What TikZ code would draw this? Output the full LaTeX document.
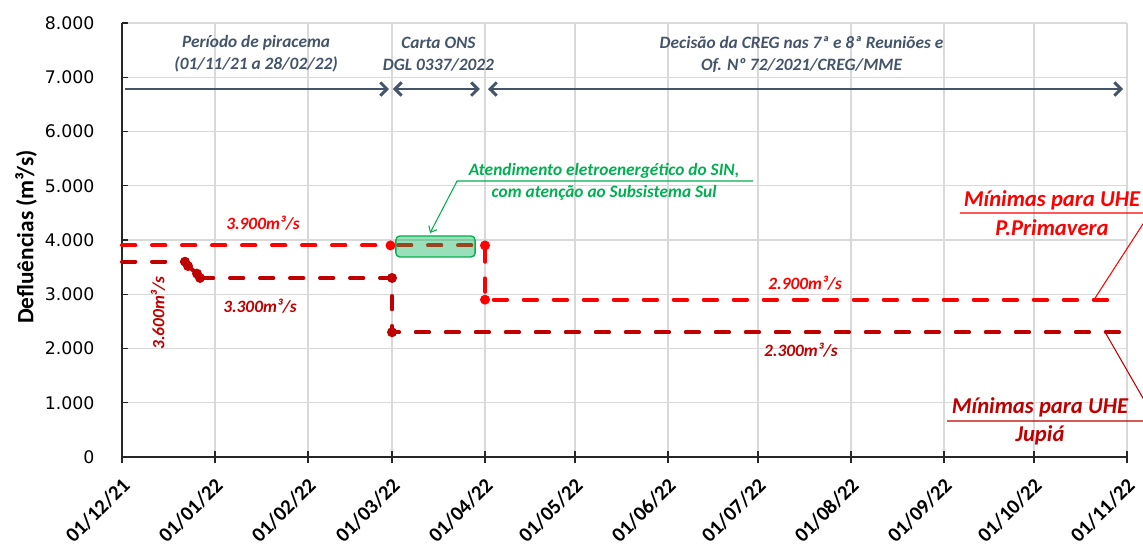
\documentclass[tikz,border=0pt]{standalone}
\usepackage{fontspec}
\setmainfont{Carlito}
\newfontfamily\tickfont{DejaVu Sans}
\usetikzlibrary{arrows.meta}
\definecolor{slate}{HTML}{44546A}
\definecolor{pvred}{HTML}{FF0000}
\definecolor{jpred}{HTML}{C00000}
\definecolor{singreen}{HTML}{00B050}
\definecolor{gridgray}{HTML}{D9D9D9}
\tikzset{
  flow/.style={line width=3pt, dash pattern=on 10pt off 12.5pt, line cap=round},
  pvline/.style={flow, pvred},
  jpline/.style={flow, jpred},
  rate/.style={font=\fontsize{13}{15}\selectfont\bfseries\itshape},
  period/.style={slate, align=center, font=\fontsize{13}{16.5}\selectfont\bfseries\itshape},
  span/.style={slate, line width=2.2pt, >={Straight Barb[length=5pt,width=10pt]}},
  uhe/.style={font=\fontsize{17}{20}\selectfont\bfseries\itshape},
  sintext/.style={singreen, font=\fontsize{13}{15}\selectfont\bfseries\itshape},
  leader/.style={line width=0.8pt},
}
\begin{document}
\begin{tikzpicture}[x=2.25pt, y=40.6875pt]
\useasboundingbox (-40.667,-1.696) rectangle (340.333,8.424);
% grid
\foreach \k in {1,...,8}
  \draw[gridgray, line width=0.8pt] (0,\k) -- (335,\k);
\foreach \d in {31,62,90,121,151,182,212,243,274,304,335}
  \draw[gridgray, line width=0.8pt] (\d,0) -- (\d,8);
% axes
\draw[line width=0.9pt, black!85] (0,8) -- (0,0) -- (335,0);
\foreach \k in {1,...,8}
  \draw[line width=0.9pt, black!85] (0,\k) -- ++(4.5pt,0);
\foreach \k/\lab in {0/0,1/1.000,2/2.000,3/3.000,4/4.000,5/5.000,6/6.000,7/7.000,8/8.000}
  \node[anchor=east, font=\tickfont\fontsize{13}{15}\selectfont] (yt\k) at (-7.6,\k) {\lab};
\foreach \d/\lab in {0/{01/12/21},31/{01/01/22},62/{01/02/22},90/{01/03/22},121/{01/04/22},151/{01/05/22},182/{01/06/22},212/{01/07/22},243/{01/08/22},274/{01/09/22},304/{01/10/22},335/{01/11/22}}{
  \draw[line width=0.9pt, black!85] (\d,0) ++(0,-4.5pt) -- ++(0,9pt);
  \node[anchor=north east, rotate=45, inner sep=1pt, font=\fontsize{15.5}{17}\selectfont\bfseries] (xt\d) at ([xshift=-1pt,yshift=-13pt]\d,0) {\lab};
}
\node[rotate=90, font=\fontsize{17.5}{20}\selectfont\bfseries] (ytitle) at (-32,4.055) {Defluências (m³/s)};

% periods
\coordinate (piraL) at (1,6.783);
\coordinate (piraR) at (89,6.783);
\coordinate (cartaL) at (90.3,6.783);
\coordinate (cartaR) at (119.3,6.783);
\coordinate (cregL) at (122,6.783);
\coordinate (cregR) at (333.7,6.783);
\draw[span, ->] (piraL) -- (piraR);
\draw[span, <->] (cartaL) -- (cartaR);
\draw[span, <->] (cregL) -- (cregR);
\node[period] (piracema) at (44.7,7.428) {Período de piracema\\(01/11/21 a 28/02/22)};
\node[period] (carta) at (105.5,7.428) {Carta ONS\\DGL 0337/2022};
\node[period] (creg) at (226.5,7.428) {Decisão da CREG nas 7ª e 8ª Reuniões e\\Of. Nº 72/2021/CREG/MME};

% UHE Jupia
\draw[jpline] (0,3.6) -- (21,3.6);
\draw[jpred, line width=3pt, line join=round] (21,3.6) -- (22,3.52) -- (25,3.38) -- (26,3.3);
\draw[jpline] (26,3.3) -- (90,3.3) -- (90,2.3) -- (335,2.3);
\foreach \p in {(21,3.6),(22,3.52),(25,3.38),(26,3.3),(90,3.3),(90,2.3)}
  \fill[jpred] \p circle (3.75pt);

% UHE P.Primavera
\draw[pvline] (0,3.9) -- (90,3.9);
\draw[pvline] (92,3.9) -- (121,3.9) -- (121,2.9) -- (330,2.9);
\foreach \p in {(89.5,3.9),(121,3.9),(121,2.9)}
  \fill[pvred] \p circle (3.75pt);

% SIN box
\fill[singreen, fill opacity=0.4, rounded corners=3pt] (91.3,3.687) rectangle (117.7,4.074);
\draw[singreen, line width=1pt, rounded corners=3pt] (91.3,3.687) rectangle (117.7,4.074);
\node[sintext] (sinTop) at (160.7,5.272) {Atendimento eletroenergético do SIN,};
\node[sintext] (sinBot) at (160.7,4.866) {com atenção ao Subsistema Sul};
\coordinate (sinR) at (210.3,5.088);
\coordinate (sinL) at (111.7,5.088);
\coordinate (sinTip) at (102.7,4.129);
\draw[singreen, leader, -{Straight Barb[length=4pt,width=7pt]}] (sinR) -- (sinL) -- (sinTip);

% rate labels
\node[rate, pvred] (r3900) at (47,4.313) {3.900m³/s};
\node[rate, jpred] (r3300) at (46,2.783) {3.300m³/s};
\node[rate, jpred, rotate=90] (r3600) at (12,2.654) {3.600m³/s};
\node[rate, pvred] (r2900) at (227.7,3.207) {2.900m³/s};
\node[rate, jpred] (r2300) at (226.3,1.972) {2.300m³/s};

% callouts
\node[uhe, pvred] (pvTop) at (310,4.737) {Mínimas para UHE};
\node[uhe, pvred] (pvBot) at (310,4.221) {P.Primavera};
\coordinate (pvL) at (279.3,4.498);
\coordinate (pvR) at (342.7,4.498);
\coordinate (pvEnd) at (324,2.9);
\draw[pvred, leader] (pvL) -- (pvR) -- (pvEnd);
\node[uhe, jpred] (jpTop) at (306,0.922) {Mínimas para UHE};
\node[uhe, jpred] (jpBot) at (306,0.406) {Jupiá};
\coordinate (jpL) at (275,0.664);
\coordinate (jpR) at (344.7,0.664);
\coordinate (jpEnd) at (327.7,2.3);
\draw[jpred, leader] (jpL) -- (jpR) -- (jpEnd);
\end{tikzpicture}
\end{document}
